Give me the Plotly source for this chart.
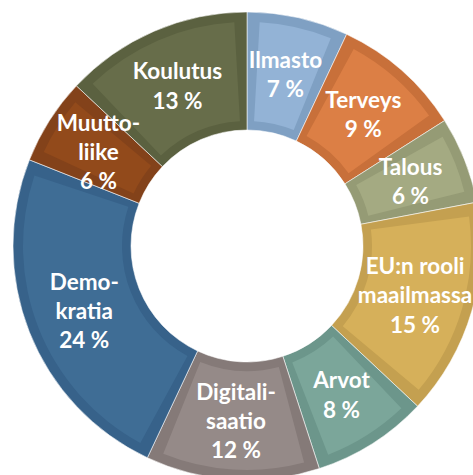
import plotly.graph_objects as go

categories = ["Ilmasto", "Terveys", "Talous", "EU:n rooli maailmassa", "Arvot",
              "Digitalisaatio", "Demokratia", "Muuttoliike", "Koulutus"]
label_lines = ["Ilmasto", "Terveys", "Talous", "EU:n rooli<br>maailmassa", "Arvot",
               "Digitali-<br>saatio", "Demo-<br>kratia", "Muutto-<br>liike", "Koulutus"]
values = [7, 9, 6, 15, 8, 12, 24, 6, 13]

fill_colors = ["#93B3D6", "#DC7F45", "#A4AA82", "#D6B05A", "#7BA69A",
               "#958A88", "#3F6D95", "#924A1B", "#676D4A"]
edge_colors = ["#7FA0C3", "#C8703A", "#959B75", "#C4A050", "#6C968B",
               "#857A78", "#37628A", "#83421A", "#5B6140"]

# geometry (pixels)
R_OUT = 234
R_IN = 116
BAND = 10
PLOT = 2 * R_OUT
gap = 0.9  # angular inset of the lighter face, in value units
FONT = dict(family="Lato", size=22.5, color="white", weight="bold")

fig = go.Figure()

# base (edge colour) ring
fig.add_trace(go.Pie(
    labels=categories, values=values, sort=False, direction="clockwise", rotation=0,
    hole=R_IN / R_OUT,
    marker=dict(colors=edge_colors, line=dict(color="rgba(255,255,255,0.55)", width=1)),
    textinfo="none", hoverinfo="skip", showlegend=False,
))

# lighter inset face
face_vals, face_cols, face_labels = [], [], []
for i, v in enumerate(values):
    face_vals += [gap, v - 2 * gap, gap]
    face_cols += ["rgba(0,0,0,0)", fill_colors[i], "rgba(0,0,0,0)"]
    face_labels += [f"g{i}a", categories[i], f"g{i}b"]
inset = BAND / PLOT
r_face = R_OUT - BAND
fig.add_trace(go.Pie(
    labels=face_labels, values=face_vals, sort=False, direction="clockwise", rotation=0,
    hole=(R_IN + BAND * 0.9) / r_face,
    domain=dict(x=[inset, 1 - inset], y=[inset, 1 - inset]),
    marker=dict(colors=face_cols, line=dict(width=0)),
    textinfo="none", hoverinfo="skip", showlegend=False,
))

texts = [f"{lab}<br>{v} %" for lab, v in zip(label_lines, values)]
big = [t if v >= 10 else "" for t, v in zip(texts, values)]
small = [t if v < 10 else "" for t, v in zip(texts, values)]

# text layer for large slices (full ring)
fig.add_trace(go.Pie(
    labels=categories, values=values, sort=False, direction="clockwise", rotation=0,
    hole=R_IN / R_OUT,
    marker=dict(colors=["rgba(0,0,0,0)"] * len(values), line=dict(width=0)),
    text=big, textinfo="text", textposition="inside",
    insidetextorientation="horizontal", textfont=FONT,
    hoverinfo="skip", showlegend=False,
))

# text layer for small slices (narrower ring so labels sit mid-ring)
R_TXT = 204
R_TXT_IN = 148
tin = (R_OUT - R_TXT) / PLOT
fig.add_trace(go.Pie(
    labels=categories, values=values, sort=False, direction="clockwise", rotation=0,
    hole=R_TXT_IN / R_TXT,
    domain=dict(x=[tin, 1 - tin], y=[tin, 1 - tin]),
    marker=dict(colors=["rgba(0,0,0,0)"] * len(values), line=dict(width=0)),
    text=small, textinfo="text", textposition="inside",
    insidetextorientation="horizontal", textfont=FONT,
    hoverinfo="skip", showlegend=False,
))

fig.update_layout(
    width=494, height=494,
    margin=dict(l=13, r=13, t=12, b=14),
    paper_bgcolor="white", plot_bgcolor="white",
    uniformtext=dict(mode="show", minsize=22.5),
)

fig.write_html("out.html", config={"displayModeBar": False},
               post_script="document.body.style.margin='0';document.body.style.overflow='hidden';")
